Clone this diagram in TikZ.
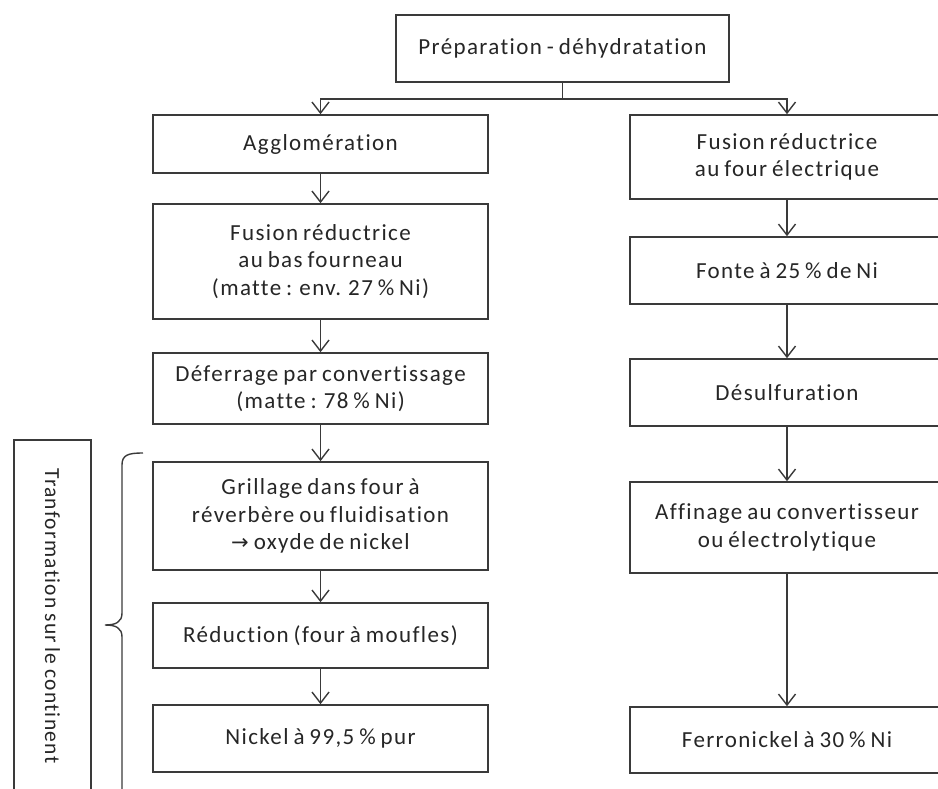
\documentclass[tikz,border=0pt]{standalone}
\usepackage{fontspec}
\setmainfont{Carlito}[LetterSpace=6, WordSpace=0.75, Ligatures={NoCommon}]
\newfontfamily\symfont{DejaVu Sans}
\usetikzlibrary{arrows.meta}
\definecolor{ln}{HTML}{3A3A3A}
\definecolor{tx}{HTML}{262626}
\tikzset{
  box/.style={draw=ln, line width=1.6pt, fill=white, align=center, text=tx,
    font=\fontsize{23}{27.5}\selectfont, inner sep=0pt},
  lbox/.style={box, minimum width=335pt},
  rbox/.style={box, minimum width=314pt},
  arr/.style={draw=ln, line width=1.6pt, -{Straight Barb[length=11pt,width=17pt,line width=1.4pt]}},
  conn/.style={draw=ln, line width=1.6pt}
}
\begin{document}
\begin{tikzpicture}[x=1pt,y=-1pt]
\useasboundingbox (0,0) rectangle (938,789);
\clip (0,0) rectangle (938,789);
% top
\node[box, minimum width=333pt, minimum height=67pt] (top) at (562.5,48.5) {Préparation - déhydratation};
% left column
\node[lbox, minimum height=58pt] (agg) at (320.5,144) {Agglomération};
\node[lbox, minimum height=115pt] (fbf) at (320.5,261.5) {Fusion réductrice\\au bas fourneau\\(matte : env. 27 \% Ni)};
\node[lbox, minimum height=71pt] (def) at (320.5,388.5) {Déferrage par convertissage\\(matte : 78 \% Ni)};
\node[lbox, minimum height=108pt] (gri) at (320.5,516) {Grillage dans four à\\réverbère ou fluidisation\\{\symfont\fontsize{21}{27.5}\selectfont →} oxyde de nickel};
\node[lbox, minimum height=65pt] (red) at (320.5,635.5) {Réduction (four à moufles)};
\node[lbox, minimum height=67pt] (nic) at (320.5,738.5) {Nickel à 99,5 \% pur};
% right column
\node[rbox, minimum height=84pt] (fe) at (787,157) {Fusion réductrice\\au four électrique};
\node[rbox, minimum height=67pt] (fon) at (787,270.5) {Fonte à 25 \% de Ni};
\node[rbox, minimum height=67pt] (des) at (787,392.5) {Désulfuration};
\node[rbox, minimum height=91pt] (aff) at (787,527.5) {Affinage au convertisseur\\ou électrolytique};
\node[rbox, minimum height=66pt] (fer) at (787,740) {Ferronickel à 30 \% Ni};
% side label
\node[box, rotate=-90, minimum width=360pt, minimum height=77pt] (lbl) at (52.5,620) {};
\node[text=tx, rotate=-90, font=\fontsize{21.5}{24}\selectfont, inner sep=0pt] (lbltext) at (52.5,616) {Tranformation sur le continent};
% connectors
\coordinate (j) at (562.5,99);
\draw[conn] (top.south) -- (j);
\draw[arr] (j) -| (agg.north);
\draw[arr] (j) -| (fe.north);
\draw[arr] (agg) -- (fbf);
\draw[arr] (fbf) -- (def);
\draw[arr] (def) -- (gri);
\draw[arr] (gri) -- (red);
\draw[arr] (red) -- (nic);
\draw[arr] (fe) -- (fon);
\draw[arr] (fon) -- (des);
\draw[arr] (des) -- (aff);
\draw[arr] (aff) -- (fer);
% brace
\draw[draw=ln, line width=1.4pt] (143,453) .. controls (128,453) and (122,455) .. (122,465)
  -- (122,613) .. controls (122,622) and (116,625) .. (105,625)
  .. controls (116,625) and (122,628) .. (122,637) -- (122,800);
\end{tikzpicture}
\end{document}
